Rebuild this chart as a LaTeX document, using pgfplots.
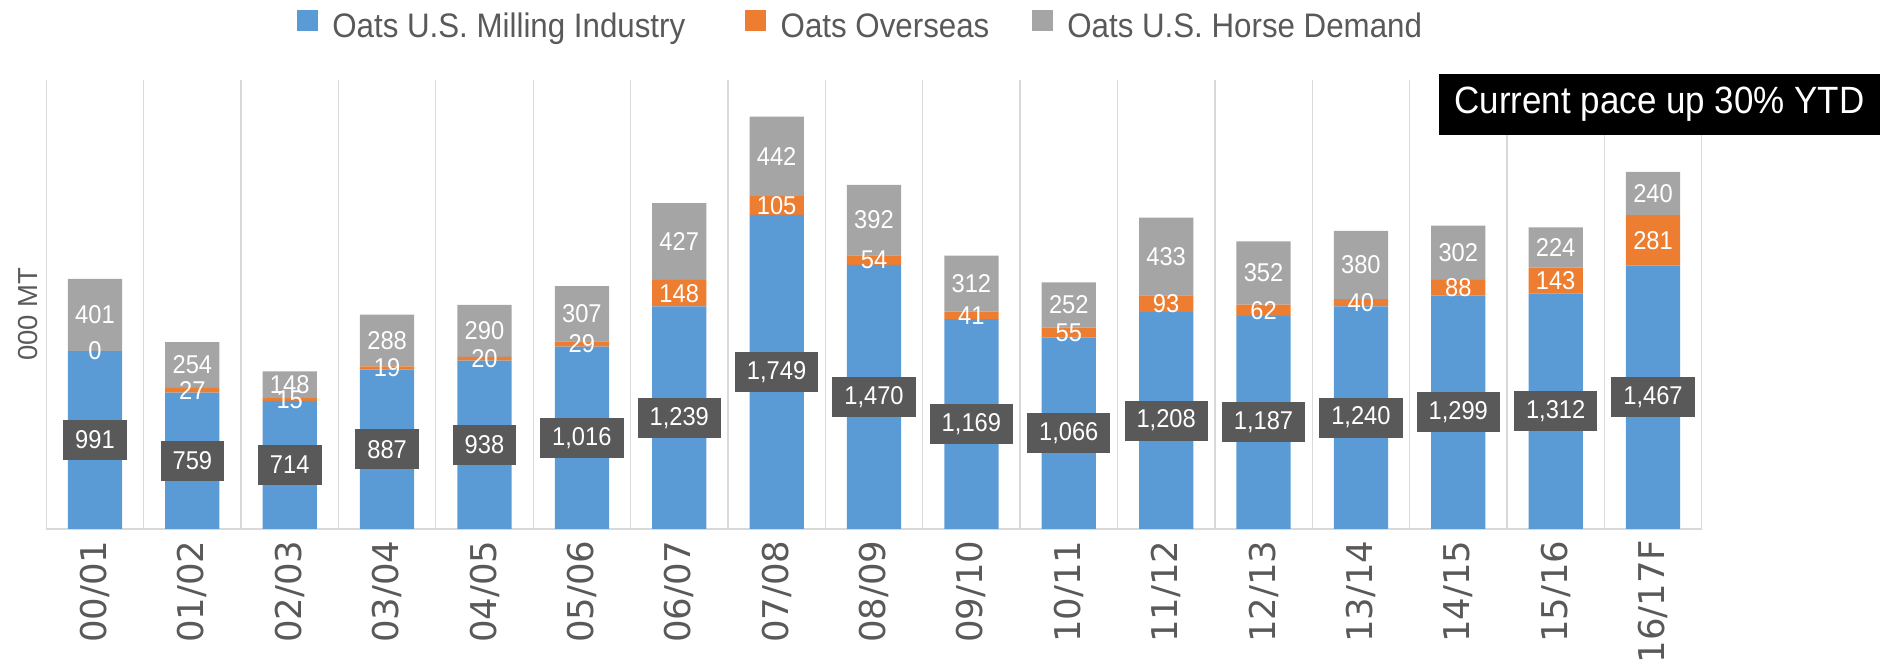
\documentclass[border=0pt]{standalone}
\usepackage{fontspec}
\setmainfont{Liberation Sans}
\newfontfamily\condf{Liberation Sans}[FakeStretch=0.92]
\newfontfamily\tickf{DejaVu Sans}
\usepackage{pgfplots}
\pgfplotsset{compat=1.18}
\usepackage{pgfplotstable}
\definecolor{cblue}{HTML}{5B9BD5}
\definecolor{corange}{HTML}{ED7D31}
\definecolor{cgray}{HTML}{A5A5A5}
\definecolor{gridc}{HTML}{D9D9D9}
\definecolor{txt}{HTML}{595959}

\pgfplotstableread{
x mill over horse
0 991 0 401
1 759 27 254
2 714 15 148
3 887 19 288
4 938 20 290
5 1016 29 307
6 1239 148 427
7 1749 105 442
8 1470 54 392
9 1169 41 312
10 1066 55 252
11 1208 93 433
12 1187 62 352
13 1240 40 380
14 1299 88 302
15 1312 143 224
16 1467 281 240
}\datatable

\pgfplotsset{
  common/.style={scale only axis, width=662.16pt, height=179.6pt,
    xmin=-0.5, xmax=16.5, ymin=0, ymax=2500},
  labelplot/.style={only marks, mark=*, mark size=0pt,
    mark options={draw=none, fill=none},
    point meta=explicit,
    nodes near coords,
    nodes near coords style={anchor=center, text=white, inner sep=1pt,
      font=\condf\fontsize{10.3pt}{12pt}\selectfont}},
}

\begin{document}
\begin{tikzpicture}
\path[use as bounding box] (-18.52pt,-55.2pt) rectangle (733.48pt,211.6pt);
\begin{axis}[common,
  ybar stacked, bar width=21.7pt,
  axis x line=bottom, axis y line=none,
  axis line style={draw=gridc, line width=0.6pt, -},
  xtick={0,...,16},
  xticklabels={00/01,01/02,02/03,03/04,04/05,05/06,06/07,07/08,08/09,09/10,10/11,11/12,12/13,13/14,14/15,15/16,16/17F},
  xticklabel style={yshift=-4.4pt, rotate=90, anchor=east, inner sep=0pt, text=txt,
    font=\tickf\fontsize{14.2pt}{16pt}\selectfont},
  major tick length=0pt, minor tick length=0pt,
  minor xtick={-0.5,0.5,...,16.5},
  xminorgrids=true,
  minor grid style={draw=gridc, line width=0.55pt},
  ytick=\empty,
  clip=false,
  legend columns=3,
  legend style={at={(0.4927,1.118)}, anchor=center, draw=none, fill=none,
    font=\condf\fontsize{13.6pt}{15pt}\selectfont, text=txt,
    /tikz/column 2/.style={column sep=22pt},
    /tikz/column 4/.style={column sep=15pt}},
  legend image code/.code={\fill[#1] (0pt,-1.4pt) rectangle (8.4pt,7pt); \path (12.2pt,0pt);},
]
\addplot[fill=cblue, draw=none] table[x=x, y=mill] {\datatable};
\addplot[fill=corange, draw=none] table[x=x, y=over] {\datatable};
\addplot[fill=cgray, draw=none] table[x=x, y=horse] {\datatable};
\legend{Oats U.S. Milling Industry, Oats Overseas, Oats U.S. Horse Demand}
\node[rotate=90, text=txt, font=\fontsize{11pt}{12pt}\selectfont] at (axis cs:-0.69,1195) {000 MT};
\end{axis}
\begin{axis}[common, hide axis, clip=false,
  /pgf/number format/assume math mode=true,
  /pgf/number format/1000 sep={,}]
\addplot[labelplot, nodes near coords style={fill=txt, inner xsep=4.8pt, inner ysep=0pt, minimum height=16pt}]
  table[x=x, y expr=\thisrow{mill}/2, meta=mill] {\datatable};
\addplot[labelplot]
  table[x=x, y expr=\thisrow{mill}+\thisrow{over}/2, meta=over] {\datatable};
\addplot[labelplot]
  table[x=x, y expr=\thisrow{mill}+\thisrow{over}+\thisrow{horse}/2, meta=horse] {\datatable};
\end{axis}
\node[fill=black, text=white, minimum width=176.4pt, minimum height=24.4pt, inner sep=0pt,
  font=\condf\fontsize{15.2pt}{18pt}\selectfont] at (645.3pt,169.8pt) {Current pace up 30\% YTD};
\end{tikzpicture}
\end{document}
